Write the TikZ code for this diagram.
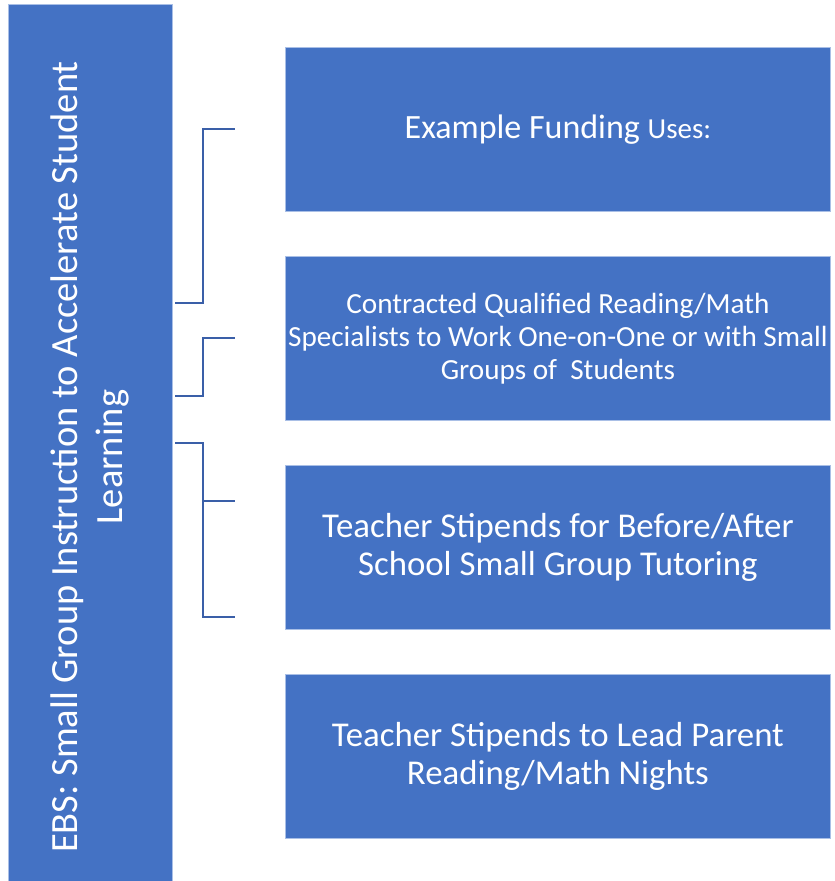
\documentclass[tikz,border=0pt]{standalone}
\usepackage{fontspec}
\setmainfont{Carlito}
\definecolor{boxblue}{HTML}{4472C4}
\definecolor{boxedge}{HTML}{A9BFE6}
\definecolor{brk}{HTML}{3A5FA8}
\begin{document}
\begin{tikzpicture}[x=1pt,y=-1pt,
  item/.style={fill=boxblue,draw=boxedge,line width=0.8pt,minimum width=545pt,minimum height=164pt,
    text=white,align=center,inner sep=0pt,anchor=north west},
  side/.style={fill=boxblue,draw=boxedge,line width=0.8pt,minimum width=906pt,minimum height=164pt,
    text=white,align=center,inner sep=0pt,rotate=90},
  bracket/.style={draw=brk,line width=2.2pt}]
\useasboundingbox (0,0) rectangle (835,881);
\node[side,font=\fontsize{38.5}{45}\selectfont] (L) at (90,457) {EBS: Small Group Instruction to Accelerate Student\\Learning};
\node[item,font=\fontsize{34}{38}\selectfont] (b1) at (285,47) {Example Funding {\fontsize{29}{38}\selectfont Uses:}};
\node[item,font=\fontsize{29.2}{33}\selectfont] (b2) at (285,256) {Contracted Qualified Reading/Math\\Specialists to Work One-on-One or with Small\\Groups of\ \ Students};
\node[item,font=\fontsize{34.8}{38}\selectfont] (b3) at (285,465) {Teacher Stipends for Before/After\\School Small Group Tutoring};
\node[item,font=\fontsize{34.8}{38}\selectfont] (b4) at (285,674) {Teacher Stipends to Lead Parent\\Reading/Math Nights};
% brackets
\coordinate (a1) at (175,303);
\coordinate (a2) at (235,129);
\draw[bracket] (a1) -- (203,303) -- (203,129) -- (a2);
\coordinate (c1) at (175,396);
\coordinate (c2) at (235,338);
\draw[bracket] (c1) -- (203,396) -- (203,338) -- (c2);
\coordinate (d1) at (175,443);
\coordinate (d2) at (235,501);
\coordinate (d3) at (235,617);
\draw[bracket] (d1) -- (203,443) -- (203,617) -- (d3);
\draw[bracket] (203,501) -- (d2);
\end{tikzpicture}
\end{document}
